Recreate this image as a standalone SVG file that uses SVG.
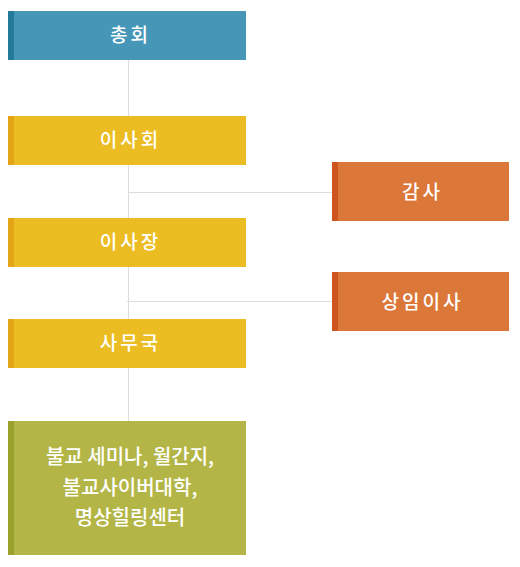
<svg xmlns="http://www.w3.org/2000/svg" width="520" height="567" viewBox="0 0 520 567">
<style>
.t{font-family:"Noto Sans CJK KR","Noto Sans",sans-serif;font-size:19px;font-weight:500;fill:#ffffff;text-anchor:middle;letter-spacing:3px}
.t2{font-family:"Noto Sans CJK KR","Noto Sans",sans-serif;font-size:20px;font-weight:500;fill:#ffffff;text-anchor:middle}
.ln{stroke:#dddddd;stroke-width:1;fill:none}
</style>
<rect width="520" height="567" fill="#ffffff"/>
<g id="connectors">
<line class="ln" x1="128.5" y1="60" x2="128.5" y2="421"/>
<line class="ln" x1="128" y1="192.5" x2="332" y2="192.5"/>
<line class="ln" x1="127" y1="301.5" x2="332" y2="301.5"/>
</g>
<g id="n-chonghoe">
<rect x="8" y="11" width="238" height="49" fill="#4697b7"/>
<rect x="8" y="11" width="6" height="49" fill="#237a9b"/>
<text class="t" x="130.5" y="42">총회</text>
</g>
<g id="n-isahoe">
<rect x="8" y="116" width="238" height="49" fill="#ebbd22"/>
<rect x="8" y="116" width="6" height="49" fill="#e3a516"/>
<text class="t" x="130.5" y="147">이사회</text>
</g>
<g id="n-isajang">
<rect x="8" y="218" width="238" height="49" fill="#ebbd22"/>
<rect x="8" y="218" width="6" height="49" fill="#e3a516"/>
<text class="t" x="130.5" y="249">이사장</text>
</g>
<g id="n-samuguk">
<rect x="8" y="319" width="238" height="49" fill="#ebbd22"/>
<rect x="8" y="319" width="6" height="49" fill="#e3a516"/>
<text class="t" x="130.5" y="350">사무국</text>
</g>
<g id="n-gamsa">
<rect x="332" y="162" width="177" height="59" fill="#dc773a"/>
<rect x="332" y="162" width="6" height="59" fill="#cf5520"/>
<text class="t" x="422.5" y="199">감사</text>
</g>
<g id="n-sangim">
<rect x="332" y="272" width="177" height="59" fill="#dc773a"/>
<rect x="332" y="272" width="6" height="59" fill="#cf5520"/>
<text class="t" x="422.5" y="309">상임이사</text>
</g>
<g id="n-programs">
<rect x="8" y="421" width="238" height="134" fill="#b3b646"/>
<rect x="8" y="421" width="6" height="134" fill="#9aa22b"/>
<text class="t2" x="130" y="464">불교 세미나, 월간지,</text>
<text class="t2" x="130" y="495">불교사이버대학,</text>
<text class="t2" x="130" y="525">명상힐링센터</text>
</g>
</svg>
